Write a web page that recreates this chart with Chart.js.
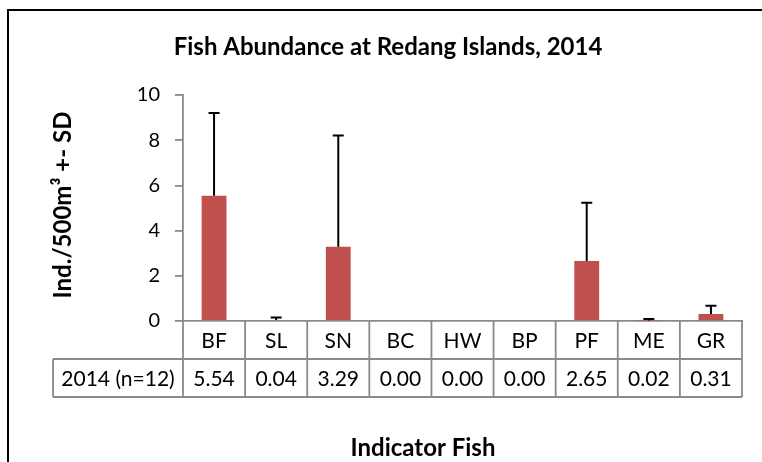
<!DOCTYPE html>
<html>
<head>
<meta charset="utf-8">
<script src="https://cdn.jsdelivr.net/npm/chart.js"></script>
<style>
  html, body { margin: 0; padding: 0; background: #fff; }
  #wrap { width: 762px; height: 462px; }
</style>
</head>
<body>
<div id="wrap"><canvas id="fish-chart" width="762" height="462"></canvas></div>
<script>
// 데이터 (Redang Islands 2014 지표 어종 풍부도)
const categories = ['BF', 'SL', 'SN', 'BC', 'HW', 'BP', 'PF', 'ME', 'GR'];
const means = [5.54, 0.04, 3.29, 0.00, 0.00, 0.00, 2.65, 0.02, 0.31];
const sdValues = [3.66, 0.12, 4.92, 0.00, 0.00, 0.00, 2.58, 0.07, 0.37];
const yTicks = [0, 2, 4, 6, 8, 10];
const rowLabel = '2014 (n=12)';
const titleText = 'Fish Abundance at Redang Islands, 2014';
const yTitleText = 'Ind./500m³ +- SD';
const xTitleText = 'Indicator Fish';

const FONT = "Lato, 'Open Sans', sans-serif";
const AXIS_GREY = '#8a8a8a';

/**
 * 오차 막대 + 데이터 테이블 + 제목 그리기
 */
const decorPlugin = {
  id: 'decor',
  afterDatasetsDraw(chart) {
    const ctx = chart.ctx;
    const meta = chart.getDatasetMeta(0);
    const y = chart.scales.y;
    ctx.save();
    ctx.strokeStyle = '#000';
    ctx.lineWidth = 2;
    meta.data.forEach((bar, i) => {
      if (!sdValues[i]) return;
      const top = y.getPixelForValue(means[i] + sdValues[i]);
      const base = y.getPixelForValue(means[i]);
      ctx.beginPath();
      ctx.moveTo(bar.x, base);
      ctx.lineTo(bar.x, top);
      ctx.moveTo(bar.x - 5.5, top);
      ctx.lineTo(bar.x + 5.5, top);
      ctx.stroke();
    });
    ctx.restore();
  },
  afterDraw(chart) {
    const ctx = chart.ctx;
    const area = chart.chartArea;
    const x = chart.scales.x;
    const catW = (area.right - area.left) / categories.length;
    const rowH = 38;
    const row1 = area.bottom;
    const row2 = row1 + rowH;
    const row3 = row2 + rowH;
    const labelLeft = 53;

    ctx.save();
    // 외곽 테두리
    ctx.strokeStyle = '#000';
    ctx.lineWidth = 2;
    ctx.strokeRect(8, 10, 800, 500);

    // 테이블 선
    ctx.strokeStyle = AXIS_GREY;
    ctx.lineWidth = 1.8;
    ctx.beginPath();
    ctx.moveTo(labelLeft, row2);
    ctx.lineTo(area.right, row2);
    ctx.moveTo(labelLeft, row3);
    ctx.lineTo(area.right, row3);
    ctx.moveTo(labelLeft, row2);
    ctx.lineTo(labelLeft, row3);
    for (let i = 0; i <= categories.length; i++) {
      const cx = area.left + catW * i;
      ctx.moveTo(cx, row1);
      ctx.lineTo(cx, row3);
    }
    ctx.stroke();

    // 테이블 텍스트
    ctx.fillStyle = '#000';
    ctx.font = '21px ' + FONT;
    ctx.textAlign = 'center';
    ctx.textBaseline = 'middle';
    categories.forEach((c, i) => {
      const cx = x.getPixelForValue(i);
      ctx.fillText(c, cx, (row1 + row2) / 2 + 1);
      ctx.fillText(means[i].toFixed(2), cx, (row2 + row3) / 2 + 1);
    });
    ctx.fillText(rowLabel, (labelLeft + area.left) / 2, (row2 + row3) / 2 + 1);

    // 제목
    ctx.font = 'bold 24px ' + FONT;
    ctx.fillText(titleText, 388, 47);
    ctx.fillText(xTitleText, 423, 448);

    // Y축 제목
    ctx.translate(63, 205);
    ctx.rotate(-Math.PI / 2);
    ctx.font = 'bold 24px ' + FONT;
    ctx.fillText(yTitleText, 0, 0);
    ctx.restore();
  }
};

new Chart(document.getElementById('fish-chart'), {
  type: 'bar',
  data: {
    labels: categories,
    datasets: [{
      data: means,
      backgroundColor: '#C0504D',
      borderWidth: 0,
      categoryPercentage: 1.0,
      barPercentage: 0.4
    }]
  },
  options: {
    responsive: false,
    animation: false,
    layout: { padding: { left: 0, top: 95, right: 20, bottom: 141 } },
    scales: {
      x: {
        grid: { display: false },
        ticks: { display: false },
        border: { display: true, color: AXIS_GREY, width: 1.8 },
        afterFit(scale) { scale.height = 0; }
      },
      y: {
        min: 0,
        max: 10,
        afterBuildTicks(scale) { scale.ticks = yTicks.map(v => ({ value: v })); },
        afterFit(scale) { scale.width = 183; },
        grid: { drawOnChartArea: false, drawTicks: true, tickLength: 8, color: AXIS_GREY, lineWidth: 1.8 },
        border: { color: AXIS_GREY, width: 1.8 },
        ticks: { color: '#000', padding: 15, font: { family: FONT, size: 20 } }
      }
    },
    plugins: {
      legend: { display: false },
      tooltip: { enabled: false }
    }
  },
  plugins: [decorPlugin]
});
</script>
</body>
</html>
